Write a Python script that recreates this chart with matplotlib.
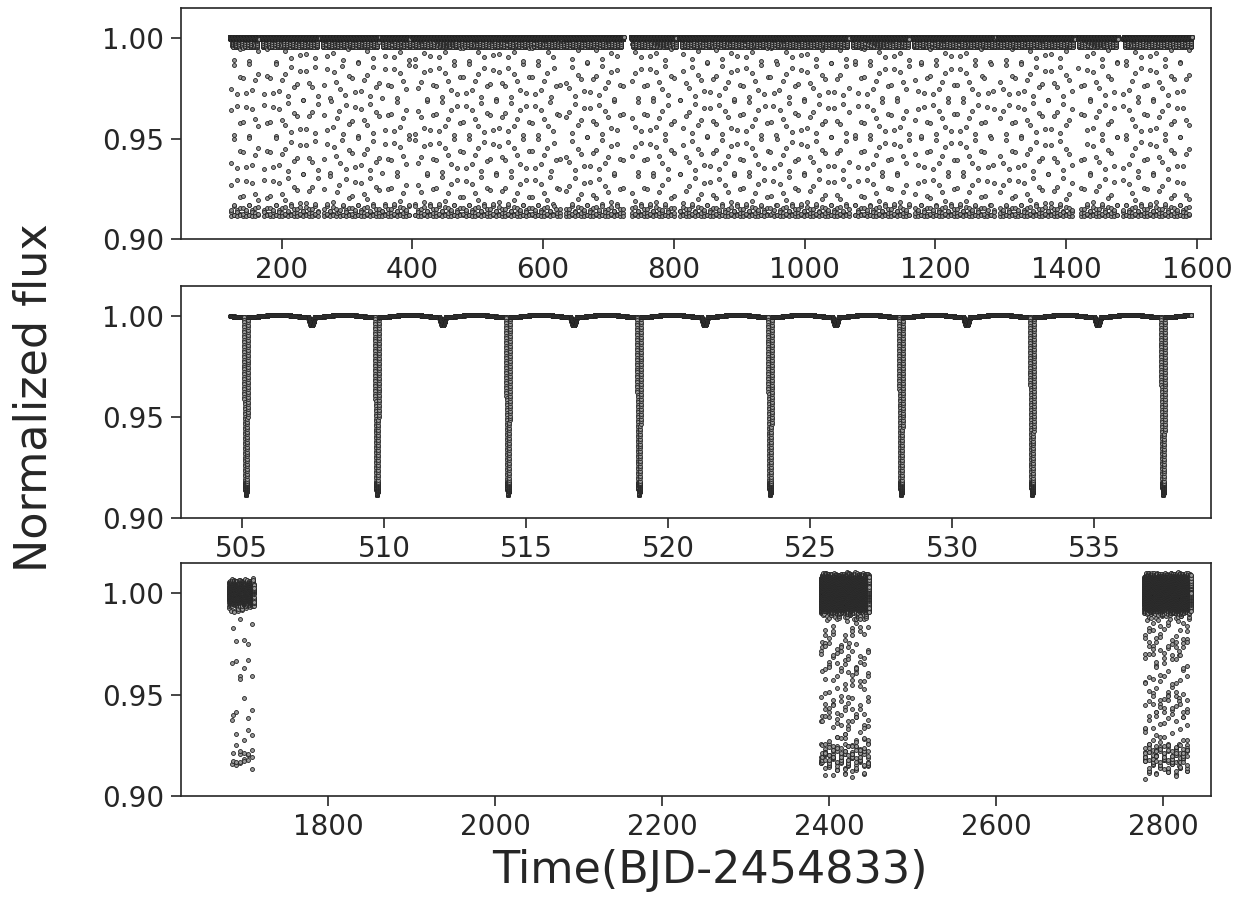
import numpy as np
import matplotlib
matplotlib.use('Agg')
from matplotlib import pyplot as plt

# Binary light curve, rebuilt from values:
# eclipse times in the zoomed panel, depths, widths and the time spans covered.
period = 4.610            # days, from primary minima at 505.15 ... 537.42
t0_primary = 505.15
kepler_depth = 0.088      # bottom at ~0.912
tess_depth = 0.083        # bottom band at ~0.917 in the TESS data
primary_halfwidth = 0.078 # days
flat_fraction = 0.42      # part of the eclipse near the bottom
bottom_curv = 0.07
secondary_depth = 0.004
secondary_halfwidth = 0.12
base_level = 0.9995
ellip_amp = 0.0012

# Kepler long cadence spans (gaps as seen in the top panel)
kepler_lc_segments = [(120.5, 166.0), (170.0, 258.0), (261.0, 350.0), (353.0, 397.0),
                      (400.0, 538.2), (539.5, 629.3), (630.2, 723.0), (734.0, 803.0),
                      (808.0, 1068.0), (1073.0, 1160.0), (1165.0, 1292.0), (1295.0, 1413.0),
                      (1418.0, 1480.0), (1487.0, 1592.0)]
kepler_lc_cadence = 0.0204335
# Kepler short cadence span shown in the middle panel
kepler_sc_segment = (504.6, 538.4)
kepler_sc_cadence = 0.00068112
# TESS spans in the bottom panel
tess_segments = [(1681.0, 1711.0), (2390.0, 2448.0), (2777.0, 2833.0)]
tess_cadence = [0.0208333, 0.0069444, 0.0069444]
tess_scatter = [0.007, 0.010, 0.010]   # half-width of the band around 1.00

x_ticks_1 = [200, 400, 600, 800, 1000, 1200, 1400, 1600]
x_ticks_2 = [505, 510, 515, 520, 525, 530, 535]
x_ticks_3 = [1800, 2000, 2200, 2400, 2600, 2800]
y_ticks = [0.90, 0.95, 1.00]


def model_flux(t, depth):
    dt1 = (((t - t0_primary) / period + 0.5) % 1 - 0.5) * period
    x1 = np.abs(dt1) / primary_halfwidth
    dip1 = np.where(x1 < flat_fraction,
                    depth * (1 - bottom_curv * (x1 / flat_fraction) ** 2),
                    np.where(x1 < 1,
                             depth * (1 - bottom_curv) * (1 - x1) / (1 - flat_fraction),
                             0.0))
    dt2 = (((t - t0_primary - period / 2) / period + 0.5) % 1 - 0.5) * period
    x2 = np.abs(dt2) / secondary_halfwidth
    dip2 = np.where(x2 < 1, secondary_depth * np.sqrt(1 - x2 ** 2) * (1 - x2 ** 2), 0.0)
    phase = dt1 / period
    out = base_level + ellip_amp * np.sin(2 * np.pi * phase) ** 2
    return out - dip1 - dip2


t_lc = np.concatenate([np.arange(a, b, kepler_lc_cadence) for a, b in kepler_lc_segments])
f_lc = model_flux(t_lc, kepler_depth)

t_sc = np.arange(kepler_sc_segment[0], kepler_sc_segment[1], kepler_sc_cadence)
f_sc = model_flux(t_sc, kepler_depth)

t_tess, f_tess = [], []
for (a, b), cad, amp in zip(tess_segments, tess_cadence, tess_scatter):
    tt = np.arange(a, b, cad)
    k = np.arange(tt.size)
    # deterministic spread of the TESS points across the band width read above
    spread = amp * ((k * 0.6180339887) % 1 + (k * 0.4142135624) % 1 - 1)
    t_tess.append(tt)
    f_tess.append(model_flux(tt, tess_depth) + spread)
t_tess = np.concatenate(t_tess)
f_tess = np.concatenate(f_tess)

plt.rcParams['font.family'] = 'DejaVu Sans'
plt.rcParams['axes.edgecolor'] = '#262626'
plt.rcParams['axes.linewidth'] = 1.2

fig = plt.figure(figsize=(12.43, 9.01), dpi=100)
ax1 = fig.add_axes([0.1456, 0.7347, 0.8286, 0.2564])
ax2 = fig.add_axes([0.1456, 0.4251, 0.8286, 0.2575])
ax3 = fig.add_axes([0.1456, 0.1165, 0.8286, 0.2586])

pt_style = dict(s=8, facecolors='0.6', edgecolors='#222222', linewidths=0.6, rasterized=True)
ax1.scatter(t_lc, f_lc, **pt_style)
ax2.scatter(t_sc, f_sc, **pt_style)
ax3.scatter(t_tess, f_tess, **pt_style)

ax1.set_xlim(46, 1621.4)
ax2.set_xlim(502.86, 539.1)
ax3.set_xlim(1623.6, 2857)
ax1.set_xticks(x_ticks_1)
ax2.set_xticks(x_ticks_2)
ax3.set_xticks(x_ticks_3)

for ax in (ax1, ax2, ax3):
    ax.set_ylim(0.90, 1.015)
    ax.set_yticks(y_ticks)
    ax.set_yticklabels(['%.2f' % v for v in y_ticks])
    ax.tick_params(axis='both', labelsize=20, length=7, width=1.2,
                   color='#262626', labelcolor='#262626', pad=5)

fig.text(0.571, 0.034, 'Time(BJD-2454833)', fontsize=32, color='#262626',
         ha='center', va='center')
fig.text(0.027, 0.559, 'Normalized flux', fontsize=32, color='#262626',
         ha='center', va='center', rotation=90)

fig.savefig('out.png', dpi=100)
